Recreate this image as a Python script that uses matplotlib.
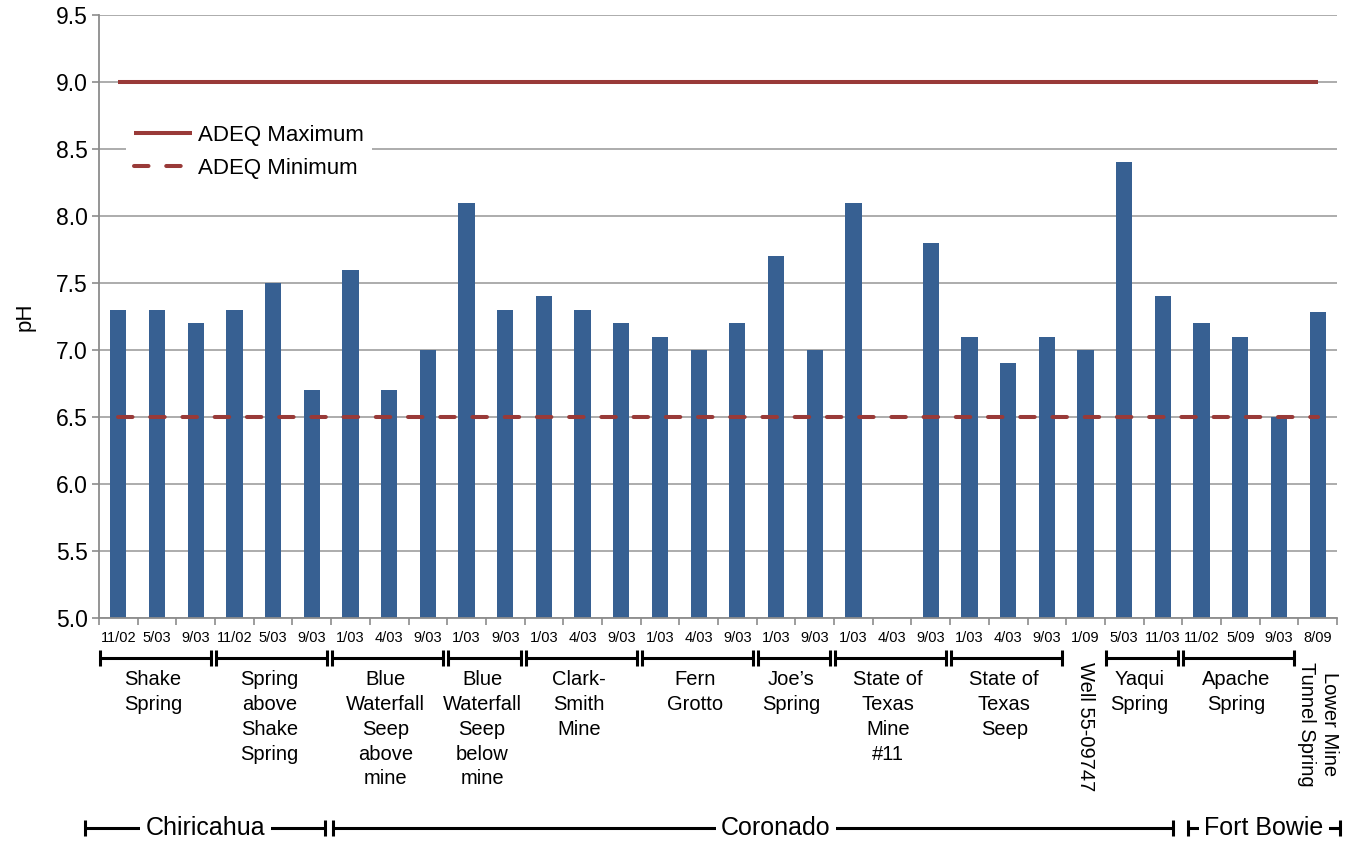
import numpy as np
import matplotlib
matplotlib.use("Agg")
import matplotlib.pyplot as plt
from matplotlib import transforms

plt.rcParams['font.family'] = ['Liberation Sans', 'DejaVu Sans']

# ---------------- data ----------------
dates = ["11/02", "5/03", "9/03",
         "11/02", "5/03", "9/03",
         "1/03", "4/03", "9/03",
         "1/03", "9/03",
         "1/03", "4/03", "9/03",
         "1/03", "4/03", "9/03",
         "1/03", "9/03",
         "1/03", "4/03", "9/03",
         "1/03", "4/03", "9/03",
         "1/09",
         "5/03", "11/03",
         "11/02", "5/09", "9/03",
         "8/09"]
ph = [7.3, 7.3, 7.2,
      7.3, 7.5, 6.7,
      7.6, 6.7, 7.0,
      8.1, 7.3,
      7.4, 7.3, 7.2,
      7.1, 7.0, 7.2,
      7.7, 7.0,
      8.1, np.nan, 7.8,
      7.1, 6.9, 7.1,
      7.0,
      8.4, 7.4,
      7.2, 7.1, 6.5,
      7.28]
sites = ["Shake\nSpring", "Spring\nabove\nShake\nSpring",
         "Blue\nWaterfall\nSeep\nabove\nmine", "Blue\nWaterfall\nSeep\nbelow\nmine",
         "Clark-\nSmith\nMine", "Fern\nGrotto", "Joe\u2019s\nSpring",
         "State of\nTexas\nMine\n#11", "State of\nTexas\nSeep", "Well 55-09747",
         "Yaqui\nSpring", "Apache\nSpring", "Lower Mine\nTunnel Spring"]
site_counts = [3, 3, 3, 2, 3, 3, 2, 3, 3, 1, 2, 3, 1]
regions = ["Chiricahua", "Coronado", "Fort Bowie"]
region_counts = [6, 22, 4]
adeq_max = 9.0
adeq_min = 6.5
legend_labels = ["ADEQ Maximum", "ADEQ Minimum"]
yticks = [5.0, 5.5, 6.0, 6.5, 7.0, 7.5, 8.0, 8.5, 9.0, 9.5]

# ---------------- style ----------------
W, H = 1353, 843
BAR = '#376092'
RED = '#993a38'
GRID = '#a6a6a6'
SPINE = '#8c8c8c'

def fy(px):
    return 1 - px / H

fig = plt.figure(figsize=(W / 100, H / 100), dpi=100)
ax = fig.add_axes([99 / W, fy(618), (1337 - 99) / W, (618 - 15) / H])

n = len(ph)
x = np.arange(n)
ax.bar(x, ph, width=0.42, color=BAR, zorder=2)

ax.plot([x[0], x[-1]], [adeq_max, adeq_max], color=RED, lw=2.9,
        solid_capstyle='butt', zorder=3, label=legend_labels[0])
ax.plot([x[0], x[-1]], [adeq_min, adeq_min], color=RED, lw=2.9,
        dashes=(3.6, 4.4), dash_capstyle='round', zorder=3, label=legend_labels[1])

ax.set_xlim(-0.5, n - 0.5)
ax.set_ylim(yticks[0], yticks[-1])
ax.set_yticks(yticks)
ax.set_yticklabels([f"{v:.1f}" for v in yticks], fontsize=16.5)
ax.yaxis.grid(True, color=GRID, lw=1.3, zorder=0)
ax.set_axisbelow(True)
for s in ['top', 'right']:
    ax.spines[s].set_visible(False)
for s in ['left', 'bottom']:
    ax.spines[s].set_color(SPINE)
    ax.spines[s].set_linewidth(1.3)
ax.tick_params(axis='y', length=5, color=SPINE, width=1.2, pad=3)

ax.set_xticks(x)
ax.set_xticklabels(dates, fontsize=10.5)
ax.tick_params(axis='x', which='major', length=0, pad=9)
ax.set_xticks(np.arange(-0.5, n, 1), minor=True)
ax.tick_params(axis='x', which='minor', length=5, color=SPINE, width=1.2)

ax.set_ylabel("pH", fontsize=16, labelpad=15)

leg = ax.legend(loc='upper left', bbox_to_anchor=(126 / W, fy(117)),
                bbox_transform=fig.transFigure, frameon=True, fancybox=False,
                edgecolor='none', facecolor='white', framealpha=1,
                fontsize=16, handlelength=2.6, handletextpad=0.3,
                labelspacing=0.55, borderpad=0.35, borderaxespad=0)

trans = transforms.blended_transform_factory(ax.transData, fig.transFigure)
px_per_cat = (1337 - 99) / n

# site brackets and labels
start = 0
cap = 8 / H
for name, cnt in zip(sites, site_counts):
    left = start - 0.5
    right = start + cnt - 0.5
    center = (left + right) / 2
    if cnt > 1:
        l = left + 1 / px_per_cat
        r = right - 4 / px_per_cat
        y0 = fy(658)
        ax.plot([l, r], [y0, y0], color='black', lw=2.2, transform=trans, clip_on=False,
                solid_capstyle='butt')
        for xx in (l, r):
            ax.plot([xx, xx], [y0 - cap, y0 + cap], color='black', lw=2.2,
                    transform=trans, clip_on=False, solid_capstyle='butt')
        ax.text(center - 0.1, fy(670), name, ha='center', va='top', fontsize=14.5,
                linespacing=1.39, transform=trans, multialignment='center')
    else:
        ax.text(center, fy(662), name, ha='center', va='top', fontsize=14.5,
                rotation=270, linespacing=1.25, transform=trans,
                multialignment='center')
    start += cnt

# region brackets
start = 0
rcap = 8 / H
y1 = fy(828)
offsets = [(-0.35, -0.15, 0.0), (0.05, -0.25, 0.6), (0.15, 0.07, 0.0)]
for name, cnt, (lo, ro, to) in zip(regions, region_counts, offsets):
    l = start - 0.5 + lo
    r = start + cnt - 0.5 + ro
    ax.plot([l, r], [y1, y1], color='black', lw=2.2, transform=trans, clip_on=False,
            solid_capstyle='butt')
    for xx in (l, r):
        ax.plot([xx, xx], [y1 - rcap, y1 + rcap], color='black', lw=2.2,
                transform=trans, clip_on=False, solid_capstyle='butt')
    ax.text((l + r) / 2 + to, y1, name, ha='center', va='center', fontsize=18,
            transform=trans, zorder=5,
            bbox=dict(facecolor='white', edgecolor='none', pad=4))
    start += cnt

fig.savefig("out.png", dpi=100)
